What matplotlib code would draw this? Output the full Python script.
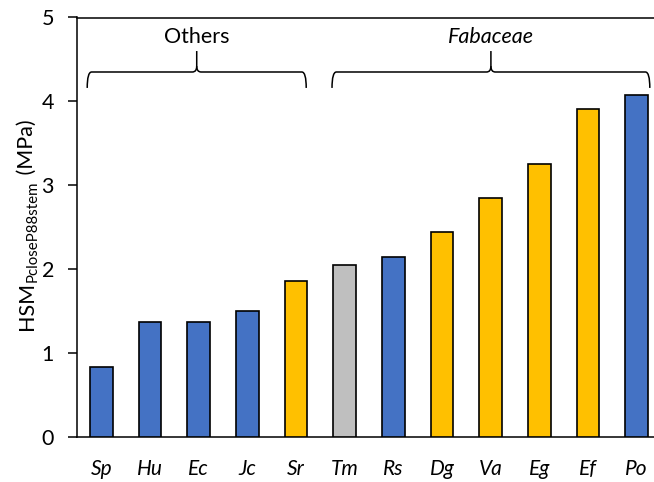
import matplotlib
matplotlib.use("Agg")
import matplotlib.pyplot as plt
from matplotlib.path import Path
from matplotlib.patches import PathPatch
from matplotlib.transforms import IdentityTransform

plt.rcParams['font.family'] = ['Lato', 'DejaVu Sans']

species = ["Sp", "Hu", "Ec", "Jc", "Sr", "Tm", "Rs", "Dg", "Va", "Eg", "Ef", "Po"]
hsm = [0.835, 1.37, 1.37, 1.50, 1.86, 2.05, 2.14, 2.44, 2.85, 3.25, 3.91, 4.07]
groups = ["blue", "blue", "blue", "blue", "gold", "gray", "blue", "gold", "gold", "gold", "gold", "blue"]
group_colors = {"blue": "#4472C4", "gold": "#FFC000", "gray": "#BFBFBF"}
yticks = [0, 1, 2, 3, 4, 5]
bracket_labels = ["Others", "Fabaceae"]
bracket_spans = [(-0.29, 4.21), (4.74, 11.27)]

W, H = 654, 482
fig = plt.figure(figsize=(W / 100, H / 100), dpi=100)
ax = fig.add_axes([77/W, 1-436.7/H, (661-77)/W, (436.7-17.5)/H])

x = list(range(len(species)))
ax.bar(x, hsm, width=0.47, color=[group_colors[g] for g in groups],
       edgecolor="black", linewidth=1.2, zorder=3)

ax.set_xlim(-0.5, 11.5)
ax.set_ylim(0, 5)
ax.set_yticks(yticks)
ax.set_yticklabels([str(t) for t in yticks], fontsize=15.5)
ax.set_xticks(x)
ax.set_xticklabels(species, fontsize=15, style="italic")
ax.tick_params(axis="x", length=0, pad=16)
ax.tick_params(axis="y", length=6.5, width=1.1, pad=10, direction="out")
for s in ["left", "bottom", "top"]:
    ax.spines[s].set_linewidth(1.1)
ax.spines["right"].set_visible(False)

# y label built from pieces (main text + smaller subscript)
fig.canvas.draw()
renderer = fig.canvas.get_renderer()
pieces = [("HSM", 15.5, 0), ("PcloseP88stem", 10.8, 4), (" (MPa)", 15.5, 0)]
ypos = 330  # pixels from top where label starts
base_x = 33
for txt, size, shift in pieces:
    t = fig.text(base_x + shift, H - ypos, txt, fontsize=size, rotation=90,
                 rotation_mode="anchor", ha="left", va="baseline",
                 transform=IdentityTransform())
    fig.canvas.draw()
    bb = t.get_window_extent(renderer)
    ypos -= bb.height

# curly brackets
yh, ylow, ytip = 4.35, 4.16, 4.60
dx, dy = 0.09, 0.07
for (x0, x1), lab in zip(bracket_spans, bracket_labels):
    xc = (x0 + x1) / 2
    verts = [
        (x0, ylow), (x0, yh), (x0 + dx, yh),
        (xc - dx, yh), (xc, yh), (xc, yh + dy),
        (xc, ytip),
    ]
    codes = [Path.MOVETO, Path.CURVE3, Path.CURVE3,
             Path.LINETO, Path.CURVE3, Path.CURVE3, Path.LINETO]
    ax.add_patch(PathPatch(Path(verts, codes), fill=False, lw=1.1,
                           edgecolor="black", clip_on=False, zorder=4))
    verts2 = [
        (xc, yh + dy), (xc, yh), (xc + dx, yh),
        (x1 - dx, yh), (x1, yh), (x1, ylow),
    ]
    codes2 = [Path.MOVETO, Path.CURVE3, Path.CURVE3,
              Path.LINETO, Path.CURVE3, Path.CURVE3]
    ax.add_patch(PathPatch(Path(verts2, codes2), fill=False, lw=1.1,
                           edgecolor="black", clip_on=False, zorder=4))
    ax.text(xc, 4.77, lab, ha="center", va="center", fontsize=15.5,
            style="italic" if lab == "Fabaceae" else "normal")

fig.savefig("out.png", dpi=100)
